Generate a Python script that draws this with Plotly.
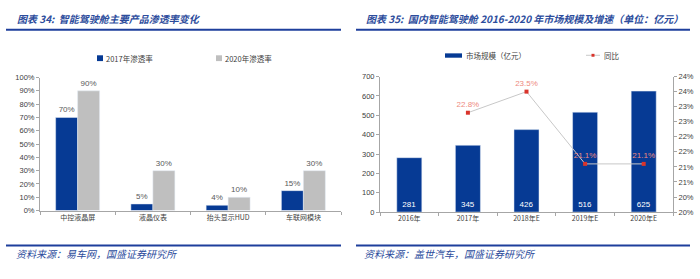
import plotly.graph_objects as go

W, H = 700, 279

# ---- data ----
left_categories = ["中控液晶屏", "液晶仪表", "抬头显示HUD", "车联网模块"]
rate_2017 = [0.70, 0.05, 0.04, 0.15]
rate_2020 = [0.90, 0.30, 0.10, 0.30]

right_years = ["2016年", "2017年", "2018年E", "2019年E", "2020年E"]
market_size = [281, 345, 426, 516, 625]
yoy = [None, 0.228, 0.235, 0.211, 0.211]

left_ticks = [0, 0.1, 0.2, 0.3, 0.4, 0.5, 0.6, 0.7, 0.8, 0.9, 1.0]
right_ticks = [0, 100, 200, 300, 400, 500, 600, 700]
pct_ticks = [0.195, 0.20, 0.205, 0.21, 0.215, 0.22, 0.225, 0.23, 0.235, 0.24]
pct_tick_text = ["20%", "20%", "21%", "21%", "22%", "22%", "23%", "23%", "24%", "24%"]

BLUE = "#063A94"
GRAY = "#BFBFBF"
TITLE_BLUE = "#2C4C9C"
LINE_BLUE = "#1E3F9C"
CJK = "Noto Sans CJK SC"
TXT = "#404040"


def px(x):
    return x / W


def py(y):
    return 1 - y / H


fig = go.Figure()

# left chart bars
fig.add_trace(go.Bar(
    x=left_categories, y=rate_2017, xaxis="x", yaxis="y",
    marker_color=BLUE, width=0.292, offset=-0.292,
    text=[f"{v:.0%}" for v in rate_2017], textposition="outside",
    textfont=dict(size=8, color="#595959", family="Liberation Sans"),
    cliponaxis=False, showlegend=False, name="2017年渗透率"))
fig.add_trace(go.Bar(
    x=left_categories, y=rate_2020, xaxis="x", yaxis="y",
    marker_color=GRAY, width=0.292, offset=0,
    text=[f"{v:.0%}" for v in rate_2020], textposition="outside",
    textfont=dict(size=8, color="#595959", family="Liberation Sans"),
    cliponaxis=False, showlegend=False, name="2020年渗透率"))

# right chart bars
fig.add_trace(go.Bar(
    x=right_years, y=market_size, xaxis="x2", yaxis="y2",
    marker_color=BLUE, width=0.427,
    text=[str(v) for v in market_size], textposition="inside",
    insidetextanchor="start",
    textfont=dict(size=8, color="white", family="Liberation Sans"),
    showlegend=False, name="市场规模（亿元）"))

# right chart line
fig.add_trace(go.Scatter(
    x=right_years, y=yoy, xaxis="x2", yaxis="y3",
    mode="lines+markers+text",
    line=dict(color="#C8C8C8", width=1),
    marker=dict(color="#D9342B", size=4, symbol="square"),
    text=[None if v is None else f"{v*100:.1f}%" for v in yoy],
    textposition="top center",
    textfont=dict(size=8, color="#EE8A80", family="Liberation Sans"),
    cliponaxis=False, showlegend=False, name="同比"))

axis_common = dict(showgrid=False, zeroline=False, showline=True,
                   linecolor="#A6A6A6", linewidth=1,
                   tickfont=dict(size=7.5, color=TXT, family="Liberation Sans"))

fig.update_layout(
    width=W, height=H, autosize=False,
    margin=dict(l=0, r=0, t=0, b=0),
    paper_bgcolor="white", plot_bgcolor="white",
    xaxis=dict(domain=[px(40), px(341)], anchor="y", type="category",
               ticks="outside", ticklen=3, tickcolor="#A6A6A6",
               tickson="boundaries",
               **{k: v for k, v in axis_common.items() if k != "tickfont"},
               tickfont=dict(size=7, color=TXT, family=CJK)),
    yaxis=dict(domain=[py(213.5), py(76)], anchor="x", range=[0, 1.0],
               tickvals=left_ticks, tickformat=".0%",
               ticks="outside", ticklen=3, tickcolor="#A6A6A6",
               **axis_common),
    xaxis2=dict(domain=[px(380), px(673)], anchor="y2", type="category",
                ticks="outside", ticklen=3, tickcolor="#A6A6A6",
                tickson="boundaries",
                **{k: v for k, v in axis_common.items() if k != "tickfont"},
                tickfont=dict(size=7, color=TXT, family=CJK)),
    yaxis2=dict(domain=[py(215), py(75)], anchor="x2", range=[0, 700],
                tickvals=right_ticks,
                ticks="outside", ticklen=3, tickcolor="#A6A6A6",
                **axis_common),
    yaxis3=dict(domain=[py(215), py(75)], anchor="x2", overlaying="y2",
                side="right", range=[0.195, 0.24],
                tickvals=pct_ticks, ticktext=pct_tick_text,
                ticks="outside", ticklen=3, tickcolor="#A6A6A6",
                **axis_common),
)

shapes = []
ann = []

# title / footer rules
for x0, x1 in [(6, 341), (356, 690)]:
    shapes.append(dict(type="line", xref="paper", yref="paper",
                       x0=px(x0), x1=px(x1), y0=py(26.5), y1=py(26.5),
                       line=dict(color=LINE_BLUE, width=2)))
    shapes.append(dict(type="line", xref="paper", yref="paper",
                       x0=px(x0), x1=px(x1), y0=py(249.5), y1=py(249.5),
                       line=dict(color=LINE_BLUE, width=2)))

title_font = dict(family=CJK, size=10, color=TITLE_BLUE, style="italic")
ann.append(dict(text="<b>图表 34:  智能驾驶舱主要产品渗透率变化</b>",
                x=px(15), y=py(15), xref="paper", yref="paper",
                xanchor="left", yanchor="middle", showarrow=False,
                font=title_font))
ann.append(dict(text="<b>图表 35:  国内智能驾驶舱 2016-2020 年市场规模及增速（单位：亿元）</b>",
                x=px(364), y=py(15), xref="paper", yref="paper",
                xanchor="left", yanchor="middle", showarrow=False,
                font=title_font))
foot_font = dict(family=CJK, size=10, color=TITLE_BLUE, style="italic")
ann.append(dict(text="资料来源：易车网，国盛证券研究所",
                x=px(14), y=py(258), xref="paper", yref="paper",
                xanchor="left", yanchor="middle", showarrow=False,
                font=foot_font))
ann.append(dict(text="资料来源：盖世汽车，国盛证券研究所",
                x=px(362), y=py(258), xref="paper", yref="paper",
                xanchor="left", yanchor="middle", showarrow=False,
                font=foot_font))

# legends
leg_font = dict(family=CJK, size=7.5, color=TXT)
shapes.append(dict(type="rect", xref="paper", yref="paper",
                   x0=px(97), x1=px(103), y0=py(59), y1=py(53),
                   fillcolor=BLUE, line=dict(width=0)))
ann.append(dict(text="2017年渗透率", x=px(104), y=py(56), xref="paper", yref="paper",
                xanchor="left", yanchor="middle", showarrow=False, font=leg_font))
shapes.append(dict(type="rect", xref="paper", yref="paper",
                   x0=px(216), x1=px(222), y0=py(59), y1=py(53),
                   fillcolor=GRAY, line=dict(width=0)))
ann.append(dict(text="2020年渗透率", x=px(223), y=py(56), xref="paper", yref="paper",
                xanchor="left", yanchor="middle", showarrow=False, font=leg_font))

shapes.append(dict(type="rect", xref="paper", yref="paper",
                   x0=px(445), x1=px(462), y0=py(55.5), y1=py(51),
                   fillcolor=BLUE, line=dict(width=0)))
ann.append(dict(text="市场规模（亿元）", x=px(464), y=py(53), xref="paper", yref="paper",
                xanchor="left", yanchor="middle", showarrow=False, font=leg_font))
shapes.append(dict(type="line", xref="paper", yref="paper",
                   x0=px(586), x1=px(600), y0=py(53), y1=py(53),
                   line=dict(color="#C8C8C8", width=1)))
shapes.append(dict(type="rect", xref="paper", yref="paper",
                   x0=px(591.5), x1=px(594.5), y0=py(54.5), y1=py(51.5),
                   fillcolor="#D9342B", line=dict(width=0)))
ann.append(dict(text="同比", x=px(602), y=py(53), xref="paper", yref="paper",
                xanchor="left", yanchor="middle", showarrow=False, font=leg_font))

fig.update_layout(shapes=shapes, annotations=ann)

fig.write_html("out.html")
